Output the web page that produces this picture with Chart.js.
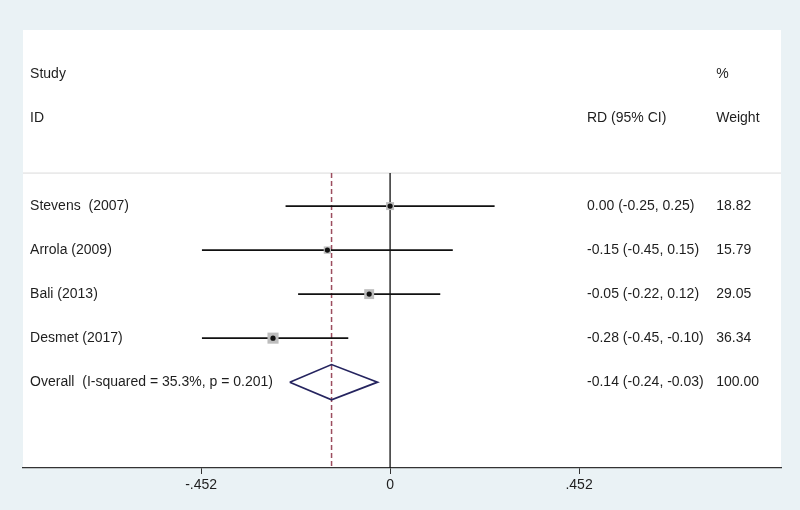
<!DOCTYPE html>
<html>
<head>
<meta charset="utf-8">
<script src="https://cdn.jsdelivr.net/npm/chart.js@4/dist/chart.umd.min.js"></script>
<style>
    body { margin: 0; background: #eaf2f5; }
    canvas { display: block; }
</style>
</head>
<body>
<canvas id="forest-chart" width="800" height="510"></canvas>
<script>
const studies = ["Stevens  (2007)", "Arrola (2009)", "Bali (2013)", "Desmet (2017)"];
const estimates = [0.00, -0.15, -0.05, -0.28];
const lowerCI = [-0.25, -0.45, -0.22, -0.45];
const upperCI = [0.25, 0.15, 0.12, -0.10];
const weights = [18.82, 15.79, 29.05, 36.34];

const overallLabel = "Overall  (I-squared = 35.3%, p = 0.201)";
const overallEstimate = -0.14;
const overallLower = -0.24;
const overallUpper = -0.03;
const overallWeight = 100.00;

const tickValues = [-0.452, 0, 0.452];
const tickLabels = ["-.452", "0", ".452"];

// layout in axis units (rows go down, one row per study)
const rowOverall = studies.length;
const rowStudyHeader = -3;
const rowIdHeader = -2;
const rowSeparator = -0.75;
const rowBottom = 5.95;
const colLabel = -0.861;
const colRD = 0.471;
const colWeight = 0.780;

const FONT_FAMILY = "'Liberation Sans', Arial, sans-serif";
const FONT = "14px " + FONT_FAMILY;

const fmtRD = (e, lo, hi) => e.toFixed(2) + " (" + lo.toFixed(2) + ", " + hi.toFixed(2) + ")";

const ciDatasets = studies.map((s, i) => ({
    data: [{ x: lowerCI[i], y: i }, { x: upperCI[i], y: i }],
    showLine: true,
    pointRadius: 0,
    borderColor: "#111",
    borderWidth: 1.6,
    order: 4
}));

const panelPlugin = {
    id: "panel",
    beforeDraw(chart) {
        const { ctx, chartArea: a } = chart;
        ctx.save();
        ctx.fillStyle = "#eaf2f5";
        ctx.fillRect(0, 0, chart.width, chart.height);
        ctx.fillStyle = "#ffffff";
        ctx.fillRect(a.left, a.top, a.right - a.left, a.bottom - a.top);
        ctx.restore();
    }
};

const textPlugin = {
    id: "forestText",
    afterDatasetsDraw(chart) {
        const { ctx } = chart;
        const x = chart.scales.x, y = chart.scales.y;
        ctx.save();
        ctx.font = FONT;
        ctx.fillStyle = "#1e1e1e";
        ctx.textAlign = "left";
        ctx.textBaseline = "middle";
        const put = (t, cx, row) => ctx.fillText(t, x.getPixelForValue(cx), y.getPixelForValue(row));

        put("Study", colLabel, rowStudyHeader);
        put("ID", colLabel, rowIdHeader);
        put("RD (95% CI)", colRD, rowIdHeader);
        put("%", colWeight, rowStudyHeader);
        put("Weight", colWeight, rowIdHeader);

        studies.forEach((s, i) => {
            put(s, colLabel, i);
            put(fmtRD(estimates[i], lowerCI[i], upperCI[i]), colRD, i);
            put(weights[i].toFixed(2), colWeight, i);
        });
        put(overallLabel, colLabel, rowOverall);
        put(fmtRD(overallEstimate, overallLower, overallUpper), colRD, rowOverall);
        put(overallWeight.toFixed(2), colWeight, rowOverall);
        ctx.restore();
    }
};

const forestChart = new Chart(document.getElementById("forest-chart"), {
    type: "scatter",
    plugins: [panelPlugin, textPlugin],
    data: {
        datasets: [
            {
                // separator under the header
                data: [{ x: -0.878, y: rowSeparator }, { x: 0.935, y: rowSeparator }],
                showLine: true,
                pointRadius: 0,
                borderColor: "#dadada",
                borderWidth: 1,
                order: 6
            },
            {
                // line of no effect
                data: [{ x: 0, y: rowSeparator }, { x: 0, y: rowBottom }],
                showLine: true,
                pointRadius: 0,
                borderColor: "#111",
                borderWidth: 1.3,
                order: 5
            },
            {
                // pooled estimate
                data: [{ x: overallEstimate, y: rowSeparator }, { x: overallEstimate, y: rowBottom }],
                showLine: true,
                pointRadius: 0,
                borderColor: "#9c4d5e",
                borderWidth: 1.5,
                borderDash: [5, 3],
                order: 5
            },
            ...ciDatasets,
            {
                // weight boxes
                data: estimates.map((e, i) => ({ x: e, y: i })),
                pointStyle: "rect",
                pointRadius: weights.map(w => 1.3 * Math.sqrt(w)),
                backgroundColor: "#bdbdbd",
                borderWidth: 0,
                order: 3
            },
            {
                data: estimates.map((e, i) => ({ x: e, y: i })),
                pointRadius: 2.6,
                backgroundColor: "#111",
                borderWidth: 0,
                order: 2
            },
            {
                // overall diamond
                data: [
                    { x: overallLower, y: rowOverall },
                    { x: overallEstimate, y: rowOverall - 0.4 },
                    { x: overallUpper, y: rowOverall },
                    { x: overallEstimate, y: rowOverall + 0.4 },
                    { x: overallLower, y: rowOverall }
                ],
                showLine: true,
                pointRadius: 0,
                borderColor: "#25245f",
                borderWidth: 1.7,
                order: 1
            }
        ]
    },
    options: {
        responsive: false,
        animation: false,
        layout: { padding: { left: 23, right: 19, top: 30, bottom: 0 } },
        plugins: { legend: { display: false }, tooltip: { enabled: false } },
        scales: {
            x: {
                type: "linear",
                min: -0.878,
                max: 0.935,
                afterBuildTicks: scale => { scale.ticks = tickValues.map(v => ({ value: v })); },
                afterFit: scale => { scale.height = 42; },
                ticks: {
                    autoSkip: false,
                    maxRotation: 0,
                    padding: 3,
                    color: "#1e1e1e",
                    font: { family: FONT_FAMILY, size: 14 },
                    callback: v => tickLabels[tickValues.indexOf(v)]
                },
                grid: { drawOnChartArea: false, tickLength: 6, color: "#333" },
                border: { color: "#333", width: 1.3 }
            },
            y: {
                type: "linear",
                min: -4,
                max: rowBottom,
                reverse: true,
                display: false
            }
        }
    }
});
</script>
</body>
</html>
